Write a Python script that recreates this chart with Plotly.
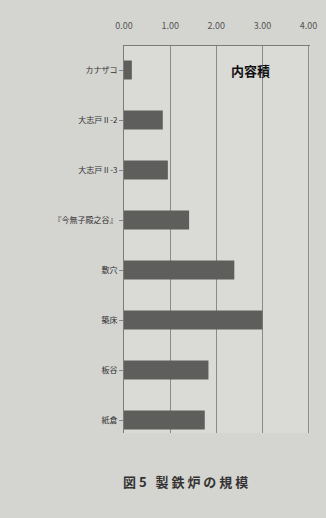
import plotly.graph_objects as go

sites = ["カナザコ", "大志戸Ⅱ-2", "大志戸Ⅱ-3", "『今無子殿之谷』", "敷穴", "築床", "板谷", "紙倉"]
volume = [0.17, 0.84, 0.95, 1.41, 2.39, 3.00, 1.83, 1.75]
tick_vals = [0, 1, 2, 3, 4]
tick_text = ["0.00", "1.00", "2.00", "3.00", "4.00"]

fig = go.Figure()
fig.add_trace(go.Bar(
    x=volume, y=sites, orientation="h",
    width=0.38,
    marker=dict(color="#5e5e5c", line=dict(width=0)),
    hoverinfo="x+y",
))

fig.update_layout(
    width=326, height=518,
    margin=dict(l=124, r=16, t=46, b=85),
    paper_bgcolor="#d4d4d0",
    plot_bgcolor="#dadad6",
    showlegend=False,
    font=dict(family="Noto Sans CJK JP", color="#333333"),
    xaxis=dict(
        side="top", range=[0, 4.03], automargin=False,
        tickvals=tick_vals, ticktext=tick_text,
        tickfont=dict(size=9, color="#555555"),
        showgrid=True, gridcolor="#8a8a88", gridwidth=1,
        showline=True, linecolor="#7a7a78", linewidth=1,
        zeroline=False, ticks="outside", ticklen=12, tickcolor="rgba(0,0,0,0)",
    ),
    yaxis=dict(
        autorange=False, range=[7.26, -0.48], automargin=False,
        tickfont=dict(size=8, color="#333333"),
        showline=True, linecolor="#7a7a78", linewidth=1,
        ticks="outside", ticklen=4, tickcolor="#888888",
        showgrid=False, zeroline=False,
    ),
    annotations=[
        dict(text="<b>内容積</b>", x=2.75, y=0, xref="x", yref="y",
             showarrow=False, font=dict(size=13, color="#111111")),
        dict(text="<b>図 5   製 鉄 炉 の 規 模</b>", x=0.33, y=-0.155, xref="paper", yref="paper",
             xanchor="center", showarrow=False, font=dict(size=13, color="#333333")),
    ],
)

# the page body has a default 8px margin; drop it so the figure fills the window
fig.write_html("out.html", config={"displayModeBar": False},
               post_script="document.body.style.margin='0';document.body.style.background='#d4d4d0';")
